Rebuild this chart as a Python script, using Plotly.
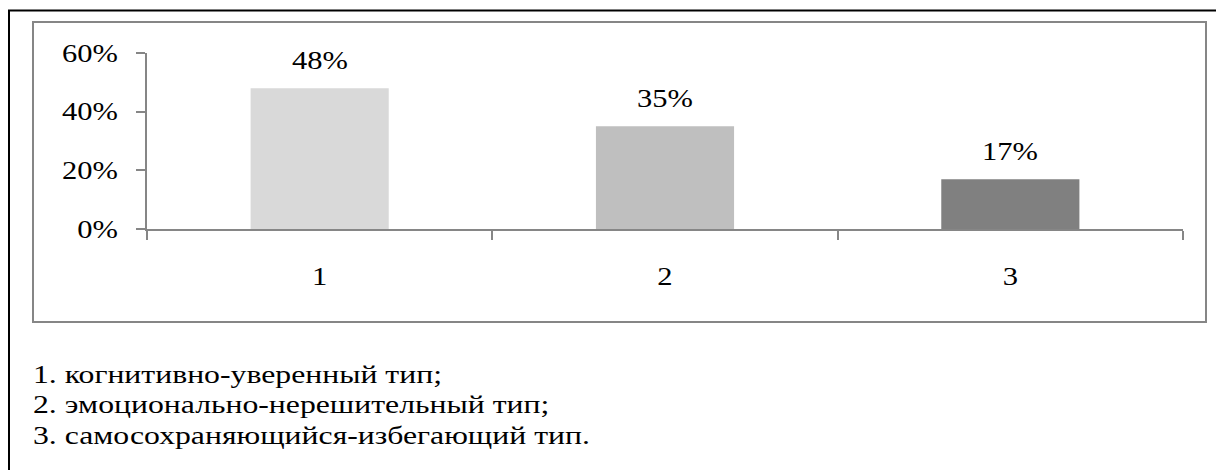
import plotly.graph_objects as go

categories = ["1", "2", "3"]
values = [0.48, 0.35, 0.17]
bar_colors = ["#d9d9d9", "#bfbfbf", "#808080"]
y_ticks = [0, 0.2, 0.4, 0.6]
legend_lines = [
    "1. когнитивно-уверенный тип;",
    "2. эмоционально-нерешительный тип;",
    "3. самосохраняющийся-избегающий тип.",
]

W, H = 1216, 470
L, R, T, B = 147, 1183, 53, 229
FONT = "Liberation Serif, Times New Roman, serif"
AX = "#868686"

def px(x):
    return (x - L) / (R - L)

def py(y):
    return (B - y) / (B - T)

fig = go.Figure(go.Bar(
    x=categories, y=values, width=0.4,
    marker=dict(color=bar_colors, line=dict(width=0)),
    hoverinfo="skip",
))

annotations = []
for i, v in enumerate(values):
    annotations.append(dict(
        x=i, y=v, xref="x", yref="y", text=f"{round(v*100)}%",
        showarrow=False, yanchor="bottom", yshift=12,
        font=dict(family=FONT, size=25, color="black"),
    ))
for i, line in enumerate(legend_lines):
    annotations.append(dict(
        x=px(31), y=py(374 + i * 30.5), xref="paper", yref="paper",
        text=line, showarrow=False, xanchor="left", yanchor="middle", align="left",
        font=dict(family=FONT, size=26, color="black"),
    ))

shapes = [
    dict(type="rect", xref="paper", yref="paper",
         x0=px(9), x1=px(1230), y0=py(10.5), y1=py(480),
         line=dict(color="black", width=2), fillcolor="rgba(0,0,0,0)", layer="below"),
    dict(type="rect", xref="paper", yref="paper",
         x0=px(33), x1=px(1206), y0=py(22), y1=py(322),
         line=dict(color=AX, width=2), fillcolor="rgba(0,0,0,0)", layer="below"),
]

fig.update_layout(
    width=W, height=H,
    margin=dict(l=L, r=W - R, t=T, b=H - B, pad=0),
    paper_bgcolor="white", plot_bgcolor="white",
    showlegend=False,
    bargap=0.6,
    annotations=annotations,
    shapes=shapes,
    font=dict(family=FONT, size=25, color="black"),
)
fig.update_xaxes(
    type="category", tickson="boundaries", ticks="outside", ticklen=9,
    tickcolor=AX, tickwidth=2, showline=True, linecolor=AX, linewidth=2,
    showgrid=False, zeroline=False, ticklabelstandoff=24,
    tickfont=dict(family=FONT, size=25, color="black"),
)
fig.update_yaxes(
    range=[0, 0.6], tickvals=y_ticks, tickformat=".0%", ticks="outside", ticklen=9,
    tickcolor=AX, tickwidth=2, showline=True, linecolor=AX, linewidth=2,
    showgrid=False, zeroline=False, ticklabelstandoff=13,
    tickfont=dict(family=FONT, size=25, color="black"),
)

# The reference text is a horizontally widened Times face; widen the real
# SVG text glyphs to match (text stays selectable text).
STRETCH_JS = """
(function(){
  document.body.style.margin='0';
  document.body.style.overflow='hidden';
  function run(){
    var nodes = document.querySelectorAll('g.xtick text, g.ytick text, text.annotation-text');
    nodes.forEach(function(t){
      if (t.getAttribute('data-st')) return;
      var w = t.getComputedTextLength();
      if (!w) return;
      t.setAttribute('textLength', (w * 1.22).toFixed(1));
      t.setAttribute('lengthAdjust', 'spacingAndGlyphs');
      t.setAttribute('data-st', '1');
    });
  }
  run(); setTimeout(run, 0); setTimeout(run, 150);
})();
"""

fig.write_html(
    "out.html",
    config={"displayModeBar": False},
    post_script=STRETCH_JS,
)
